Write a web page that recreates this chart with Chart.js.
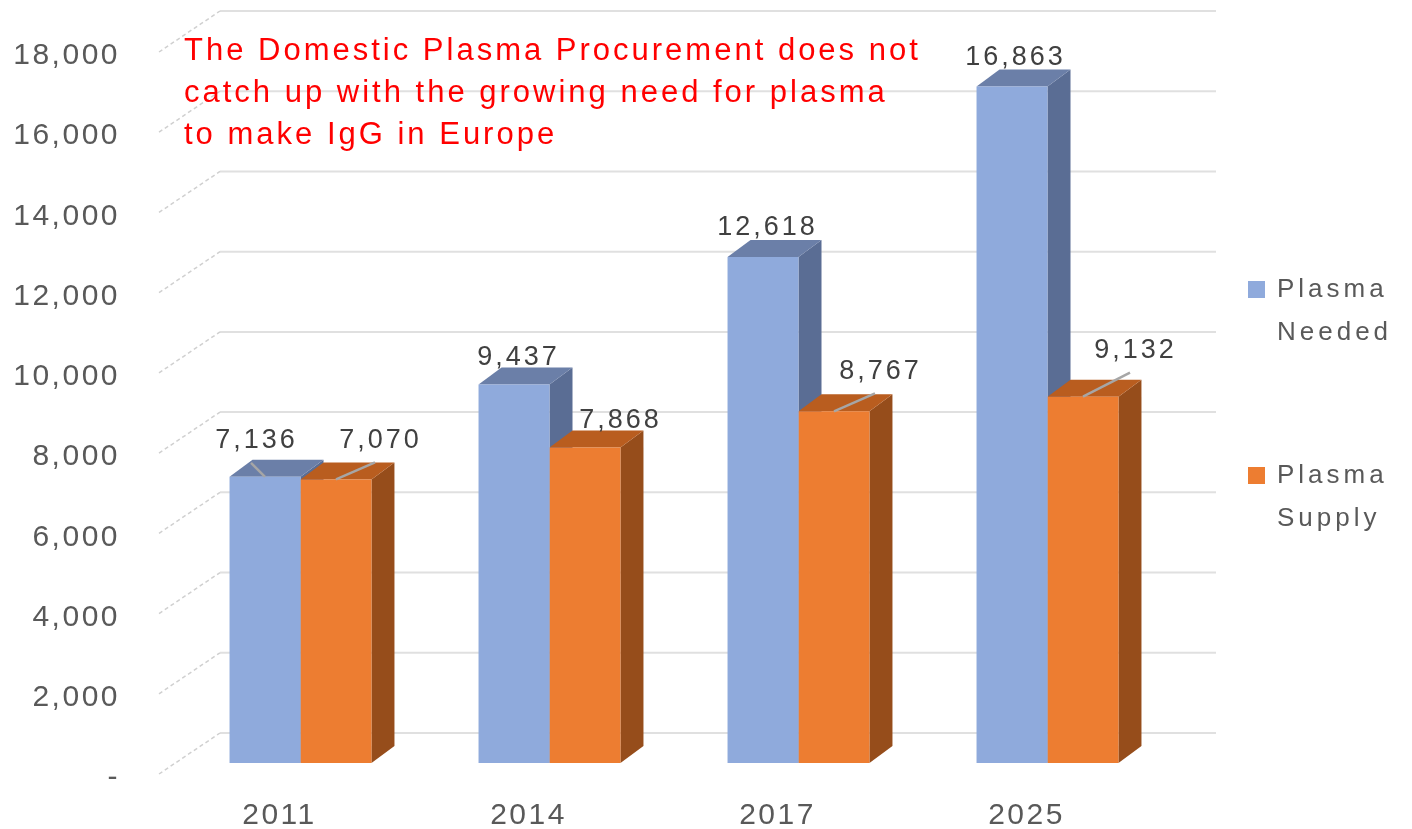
<!DOCTYPE html>
<html lang="en">
<head>
<meta charset="UTF-8">
<title>Plasma Needed vs Plasma Supply</title>
<script src="https://cdn.jsdelivr.net/npm/chart.js"></script>
<style>
  html, body { margin: 0; padding: 0; background: #fff; overflow: hidden; }
  #wrap { position: relative; width: 1412px; height: 829px; }
</style>
</head>
<body>
<div id="wrap"><canvas id="myChart"></canvas></div>
<script>
const years = ['2011', '2014', '2017', '2025'];
const plasmaNeeded = [7136, 9437, 12618, 16863];
const plasmaSupply = [7070, 7868, 8767, 9132];
const yMax = 18000;
const yStep = 2000;
const titleLines = [
    'The Domestic Plasma Procurement does not',
    'catch up with the growing need for plasma',
    'to make IgG in Europe'
];

// label nudges (px) from the top centre of each bar front, and leader lines
const neededLabelShift = [[-10, -36], [3, -27], [3, -29], [2, -29]];
const supplyLabelShift = [[43, -39], [34, -27], [45, -40], [51, -46]];
const neededLeader = [true, false, false, false];
const supplyLeader = [true, false, true, true];

const FONT = '"Liberation Sans", Arial, sans-serif';
const barDepth = { dx: 23, dy: -17 };
const wallBack = { dx: 44, dy: -30 };
const wallFront = { dx: -17, dy: 11 };

function line(ctx, x1, y1, x2, y2) {
    ctx.beginPath();
    ctx.moveTo(x1, y1);
    ctx.lineTo(x2, y2);
    ctx.stroke();
}

function poly(ctx, pts, color) {
    ctx.beginPath();
    ctx.moveTo(pts[0][0], pts[0][1]);
    for (let i = 1; i < pts.length; i++) ctx.lineTo(pts[i][0], pts[i][1]);
    ctx.closePath();
    ctx.fillStyle = color;
    ctx.fill();
}

const threeD = {
    id: 'threeD',
    beforeDraw(chart) {
        chart.ctx.letterSpacing = '2.5px';
    },
    beforeDatasetsDraw(chart) {
        const ctx = chart.ctx;
        const y = chart.scales.y;
        const area = chart.chartArea;
        ctx.save();
        // back wall and side wall grid
        y.ticks.forEach(t => {
            const py = y.getPixelForValue(t.value);
            ctx.setLineDash([]);
            ctx.strokeStyle = '#e0e0e0';
            ctx.lineWidth = 2;
            line(ctx, area.left + wallBack.dx, py + wallBack.dy, area.right + wallBack.dx, py + wallBack.dy);
            ctx.setLineDash([4, 3]);
            ctx.strokeStyle = '#d0d0d0';
            ctx.lineWidth = 1.5;
            line(ctx, area.left + wallFront.dx, py + wallFront.dy, area.left + wallBack.dx, py + wallBack.dy);
        });
        ctx.setLineDash([]);
        // tops and sides of the bars
        chart.data.datasets.forEach((ds, di) => {
            const meta = chart.getDatasetMeta(di);
            meta.data.forEach(bar => {
                const xl = bar.x - bar.width / 2;
                const xr = bar.x + bar.width / 2;
                const top = bar.y;
                const bot = bar.base;
                poly(ctx, [[xr, top], [xr + barDepth.dx, top + barDepth.dy],
                    [xr + barDepth.dx, bot + barDepth.dy], [xr, bot]], ds.sideColor);
                poly(ctx, [[xl, top], [xl + barDepth.dx, top + barDepth.dy],
                    [xr + barDepth.dx, top + barDepth.dy], [xr, top]], ds.topColor);
            });
        });
        ctx.restore();
    },
    afterDatasetsDraw(chart) {
        const ctx = chart.ctx;
        ctx.save();
        ctx.font = '27px ' + FONT;
        ctx.letterSpacing = '3px';
        ctx.textAlign = 'center';
        ctx.textBaseline = 'middle';
        chart.data.datasets.forEach((ds, di) => {
            const meta = chart.getDatasetMeta(di);
            meta.data.forEach((bar, i) => {
                const lx = bar.x + ds.labelShift[i][0];
                const ly = bar.y + ds.labelShift[i][1];
                if (ds.leader[i]) {
                    ctx.strokeStyle = '#a6a6a6';
                    ctx.lineWidth = 2.5;
                    line(ctx, bar.x, bar.y, lx - 4, ly + 22);
                }
                ctx.fillStyle = '#404040';
                ctx.fillText(ds.data[i].toLocaleString('en-US'), lx + 1.5, ly);
            });
        });
        ctx.restore();
    },
    afterDraw(chart) {
        const ctx = chart.ctx;
        ctx.save();
        // title text box
        ctx.font = '31px ' + FONT;
        ctx.letterSpacing = '3px';
        ctx.fillStyle = '#ff0000';
        ctx.textAlign = 'left';
        ctx.textBaseline = 'alphabetic';
        titleLines.forEach((s, i) => ctx.fillText(s, 184, 60 + i * 42));
        // legend
        const legendTop = [281, 467];
        ctx.font = '26px ' + FONT;
        ctx.letterSpacing = '4px';
        ctx.textBaseline = 'middle';
        chart.data.datasets.forEach((ds, i) => {
            ctx.fillStyle = ds.backgroundColor;
            ctx.fillRect(1248, legendTop[i], 17, 17);
            ctx.fillStyle = '#595959';
            ds.label.split(' ').forEach((w, j) => ctx.fillText(w, 1277, legendTop[i] + 9 + j * 43));
        });
        ctx.restore();
        ctx.letterSpacing = '0px';
    }
};

const data = {
    labels: years,
    datasets: [{
        label: 'Plasma Needed',
        data: plasmaNeeded,
        backgroundColor: '#8faadc',
        topColor: '#6b7fa8',
        sideColor: '#5a6d94',
        labelShift: neededLabelShift,
        leader: neededLeader
    }, {
        label: 'Plasma Supply',
        data: plasmaSupply,
        backgroundColor: '#ed7d31',
        topColor: '#b95d1f',
        sideColor: '#964d1b',
        labelShift: supplyLabelShift,
        leader: supplyLeader
    }]
};

const config = {
    type: 'bar',
    data: data,
    options: {
        responsive: true,
        maintainAspectRatio: false,
        animation: false,
        layout: { padding: { top: 41, right: 240, bottom: 0, left: 0 } },
        datasets: { bar: { barPercentage: 1.0, categoryPercentage: 0.57, borderWidth: 0 } },
        plugins: {
            legend: { display: false },
            title: { display: false },
            tooltip: { enabled: false }
        },
        scales: {
            x: {
                grid: { display: false, drawTicks: false },
                border: { display: false },
                ticks: {
                    color: '#595959',
                    font: { family: FONT, size: 30 },
                    padding: 35,
                    labelOffset: -21
                },
                afterFit(scale) {
                    scale.height = 66;
                    scale.paddingLeft = 0;
                    scale.paddingRight = 0;
                }
            },
            y: {
                min: 0,
                max: yMax,
                grid: { display: false, drawTicks: false },
                border: { display: false },
                ticks: {
                    stepSize: yStep,
                    color: '#595959',
                    font: { family: FONT, size: 30 },
                    padding: 56,
                    labelOffset: 15,
                    callback: v => v === 0 ? '-' : v.toLocaleString('en-US')
                },
                afterFit(scale) {
                    scale.width = 176;
                    scale.paddingTop = 0;
                    scale.paddingBottom = 0;
                }
            }
        }
    },
    plugins: [threeD]
};

const myChart = new Chart(document.getElementById('myChart'), config);
</script>
</body>
</html>
